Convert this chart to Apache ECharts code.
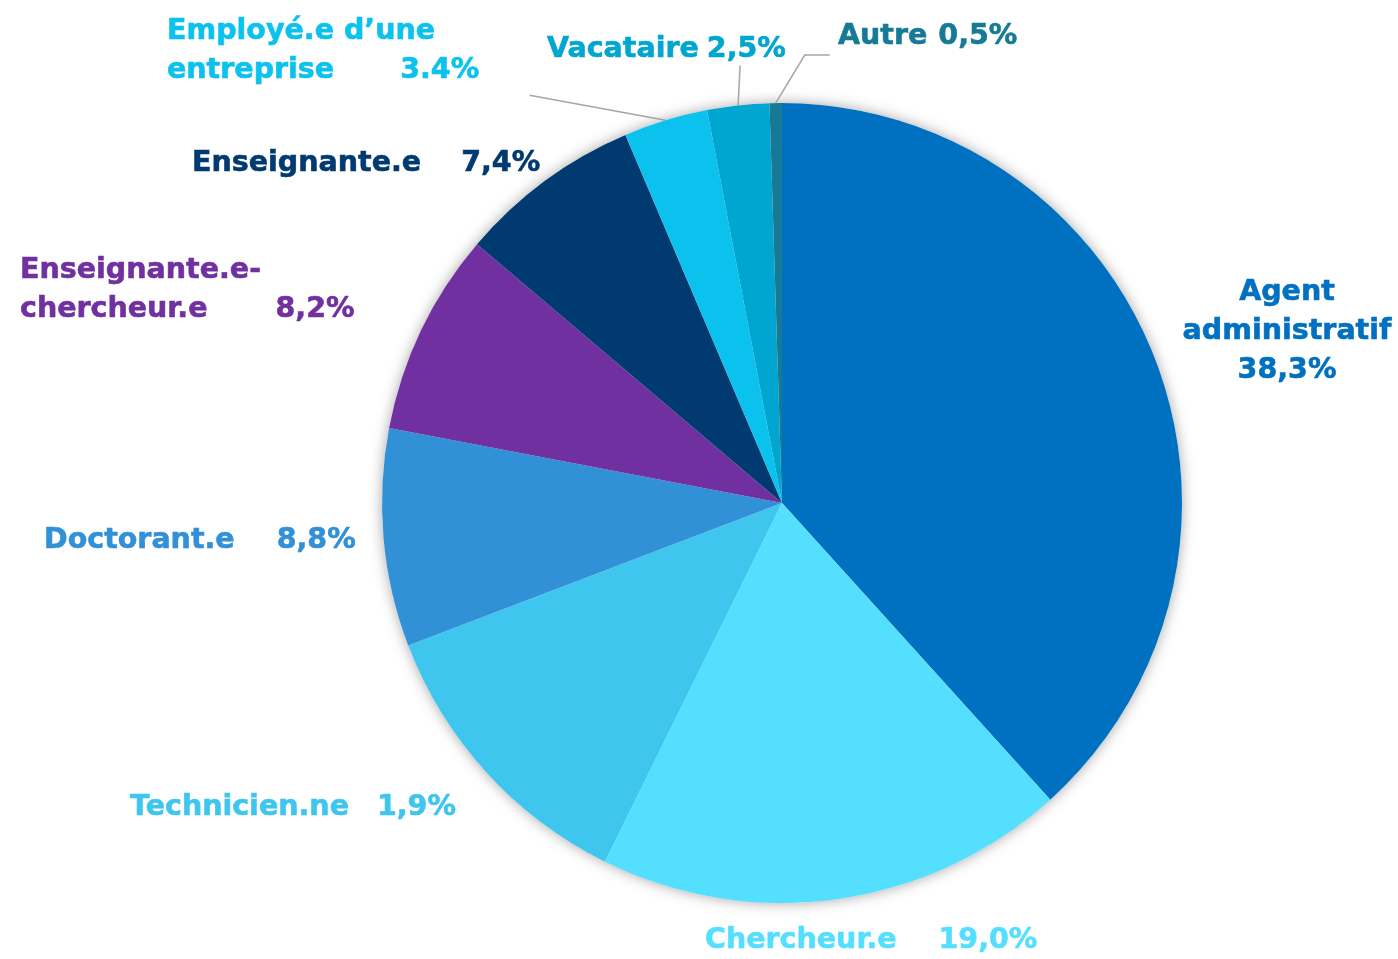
<!DOCTYPE html>
<html>
<head>
<meta charset="utf-8">
<script src="https://cdn.jsdelivr.net/npm/echarts@6/dist/echarts.min.js"></script>
<style>
    html, body { margin: 0; padding: 0; background: #fff; }
    #main { width: 1398px; height: 959px; }
</style>
</head>
<body>
<div id="main"></div>
<script>
    // categories, clockwise from the top
    var names = ['Agent administratif', 'Chercheur.e', 'Technicien.ne', 'Doctorant.e',
        'Enseignante.e-chercheur.e', 'Enseignante.e', 'Employé.e d\u2019une entreprise', 'Vacataire', 'Autre']
    // share in % (slice size)
    var values = [38.3, 19.0, 11.9, 8.8, 8.2, 7.4, 3.4, 2.5, 0.5]
    // text as printed on the chart
    var nameLabels = ['Agent\nadministratif', 'Chercheur.e', 'Technicien.ne', 'Doctorant.e',
        'Enseignante.e-\nchercheur.e', 'Enseignante.e', 'Employé.e d\u2019une\nentreprise', 'Vacataire', 'Autre']
    var pctLabels = ['38,3%', '19,0%', '1,9%', '8,8%', '8,2%', '7,4%', '3.4%', '2,5%', '0,5%']
    var colors = ['#0070C0', '#55DFFF', '#3FC6EE', '#3291D6', '#7030A0', '#003A70', '#0BC2EF', '#00A6CF', '#167A96']

    // label placement (x, y, align) and gap before the percentage
    var labelPos = [[1287, 332, 'center'], [705, 941, 'left'], [130, 808, 'left'], [44, 541, 'left'],
        [20, 290, 'left'], [192, 164, 'left'], [167, 51, 'left'], [547, 50, 'left'], [838, 37, 'left']]
    var gaps = [0, 42, 28, 42, 68, 40, 66, 8, 11]
    // leader lines: offsets from the slice edge point
    var leader = { 6: [[-136, -25]], 7: [[2, -40]], 8: [[29, -48], [54, -48]] }

    var fontBase = { fontFamily: 'DejaVu Sans', fontWeight: 'bold', fontSize: 28.5, lineHeight: 39 }

    var pieData = values.map(function (v, i) {
        var lines = nameLabels[i].split('\n')
        var txt
        if (i === 0) {
            txt = lines.map(function (l) { return '{n|' + l + '}' }).join('\n') + '\n{n|' + pctLabels[i] + '}'
        } else {
            var last = lines.pop()
            txt = lines.map(function (l) { return '{n|' + l + '}\n' }).join('') + '{n|' + last + '}{p|' + pctLabels[i] + '}'
        }
        var st = Object.assign({ color: colors[i], textBorderColor: colors[i], textBorderWidth: 0.6 }, fontBase)
        return {
            name: names[i],
            value: v,
            itemStyle: { color: colors[i] },
            label: {
                formatter: txt,
                rich: {
                    n: st,
                    p: Object.assign({ padding: [0, 0, 0, gaps[i]] }, st)
                }
            },
            labelLine: { show: !!leader[i] }
        }
    })

    var myChart = echarts.init(document.getElementById('main'))
    var option = {
        animation: false,
        series: [
            {
                // soft shadow under the whole pie
                type: 'pie',
                silent: true,
                center: [782, 503],
                radius: 400,
                z: 1,
                label: { show: false },
                labelLine: { show: false },
                itemStyle: { color: '#ffffff', shadowBlur: 14, shadowColor: 'rgba(0,0,0,0.35)' },
                data: [{ value: 1, name: '' }]
            },
            {
                type: 'pie',
                center: [782, 503],
                radius: 400,
                z: 2,
                startAngle: 90,
                clockwise: true,
                avoidLabelOverlap: false,
                label: { show: true, position: 'outside' },
                labelLine: { length: 20, length2: 0, lineStyle: { color: '#A6A6A6', width: 1.5 } },
                emphasis: { disabled: true },
                labelLayout: function (params) {
                    var i = params.dataIndex
                    var p = labelPos[i]
                    var out = { x: p[0], y: p[1], align: p[2], verticalAlign: 'middle' }
                    if (leader[i] && params.labelLinePoints) {
                        var a = params.labelLinePoints[0]
                        var pts = [[a[0], a[1]]]
                        leader[i].forEach(function (d) { pts.push([a[0] + d[0], a[1] + d[1]]) })
                        if (pts.length < 3) pts.push(pts[pts.length - 1].slice())
                        out.labelLinePoints = pts
                    }
                    return out
                },
                data: pieData
            }
        ]
    }
    myChart.setOption(option)
</script>
</body>
</html>
